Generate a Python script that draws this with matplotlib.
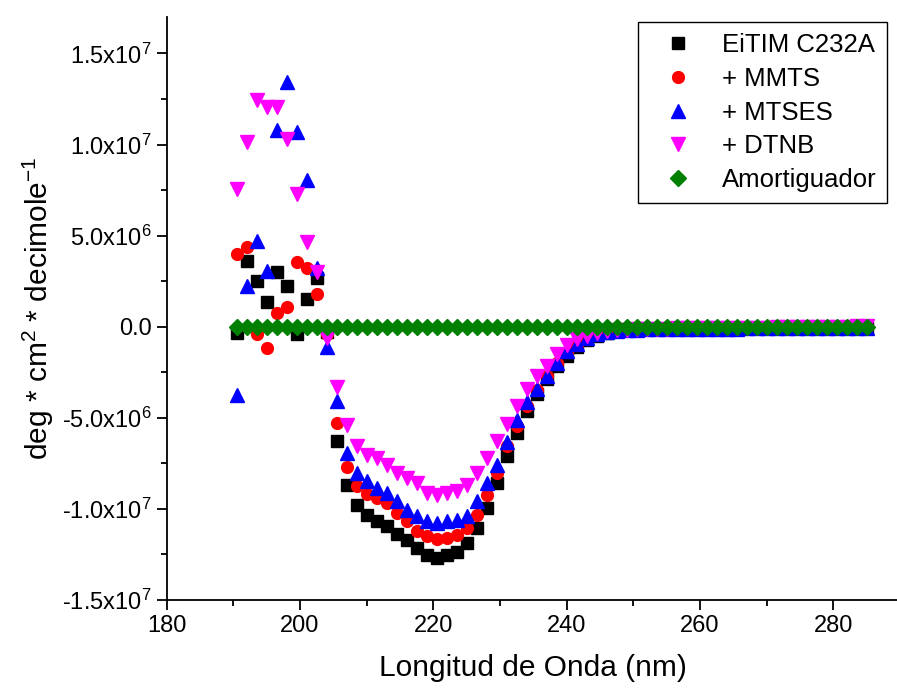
import numpy as np
import matplotlib.pyplot as plt

plt.rcParams['font.family'] = ['Liberation Sans', 'DejaVu Sans']
plt.rcParams['mathtext.fontset'] = 'custom'
plt.rcParams['mathtext.rm'] = 'Liberation Sans'

# wavelength grid (nm)
wavelength = np.arange(190.5, 285.1, 1.5)

# molar ellipticity, units of 1e6 deg cm2 dmol-1
eitim = [-0.32, 3.62, 2.52, 1.37, 2.98, 2.25, -0.41, 1.51, 2.70, -0.30,
         -6.28, -8.67, -9.81, -10.36, -10.69, -10.96, -11.38, -11.70, -12.15, -12.52,
         -12.70, -12.52, -12.34, -11.88, -11.05, -9.95, -8.58, -7.11, -5.82, -4.63,
         -3.71, -2.89, -2.16, -1.60, -1.10, -0.75, -0.50, -0.35, -0.25, -0.20,
         -0.17, -0.15, -0.14, -0.13, -0.12, -0.12, -0.11, -0.11, -0.10, -0.10,
         -0.10, -0.09, -0.09, -0.09, -0.08, -0.08, -0.08, -0.08, -0.07, -0.07,
         -0.07, -0.07, -0.06, -0.06]
mmts = [3.99, 4.36, -0.41, -1.15, 0.74, 1.06, 3.57, 3.20, 1.79, -0.40,
        -5.31, -7.72, -8.76, -9.16, -9.40, -9.68, -10.23, -10.69, -11.24, -11.51,
        -11.64, -11.60, -11.42, -11.05, -10.32, -9.22, -8.03, -6.56, -5.46, -4.36,
        -3.50, -2.70, -2.00, -1.40, -1.00, -0.65, -0.45, -0.30, -0.22, -0.18,
        -0.15, -0.14, -0.13, -0.12, -0.12, -0.11, -0.11, -0.10, -0.10, -0.10,
        -0.09, -0.09, -0.09, -0.08, -0.08, -0.08, -0.07, -0.07, -0.07, -0.07,
        -0.06, -0.06, -0.06, -0.05]
mtses = [-3.77, 2.25, 4.72, 3.07, 10.78, 13.44, 10.69, 8.03, 3.20, -1.10,
         -4.08, -6.92, -8.03, -8.49, -8.85, -9.13, -9.59, -10.04, -10.41, -10.69,
         -10.78, -10.69, -10.59, -10.41, -9.59, -8.58, -7.57, -6.33, -5.14, -4.12,
         -3.44, -2.71, -1.97, -1.35, -0.95, -0.60, -0.42, -0.30, -0.22, -0.18,
         -0.16, -0.15, -0.14, -0.13, -0.12, -0.12, -0.11, -0.11, -0.10, -0.10,
         -0.10, -0.09, -0.09, -0.09, -0.08, -0.08, -0.08, -0.08, -0.07, -0.07,
         -0.07, -0.07, -0.07, -0.08]
dtnb = [7.57, 10.14, 12.43, 12.06, 12.06, 10.32, 7.29, 4.63, 2.98, -0.60,
        -3.30, -5.37, -6.56, -7.02, -7.20, -7.57, -8.03, -8.30, -8.58, -9.13,
        -9.22, -9.13, -9.04, -8.67, -8.03, -7.20, -6.28, -5.32, -4.36, -3.44,
        -2.70, -2.16, -1.51, -1.00, -0.70, -0.50, -0.35, -0.25, -0.20, -0.16,
        -0.14, -0.12, -0.11, -0.10, -0.09, -0.08, -0.08, -0.07, -0.07, -0.06,
        -0.06, -0.05, -0.05, -0.05, -0.04, -0.04, -0.03, -0.03, -0.02, -0.02,
        -0.01, 0.00, 0.02, 0.04]
buffer = np.zeros(len(wavelength))

labels = ['EiTIM C232A', '+ MMTS', '+ MTSES', '+ DTNB', 'Amortiguador']

yticks = [-1.5e7, -1.0e7, -5.0e6, 0.0, 5.0e6, 1.0e7, 1.5e7]
ytick_labels = [r'-1.5x10$\mathregular{^7}$', r'-1.0x10$\mathregular{^7}$',
                r'-5.0x10$\mathregular{^6}$', '0.0', r'5.0x10$\mathregular{^6}$',
                r'1.0x10$\mathregular{^7}$', r'1.5x10$\mathregular{^7}$']
xticks = [180, 200, 220, 240, 260, 280]

fig = plt.figure(figsize=(8.97, 6.91), dpi=100)
ax = fig.add_axes([166.7 / 897, 91 / 691, 733.2 / 897, 583 / 691])

scale = 1e6
ax.plot(wavelength, np.array(eitim) * scale, 's', color='black', ms=8, label=labels[0])
ax.plot(wavelength, np.array(mmts) * scale, 'o', color='red', ms=8.5, label=labels[1])
ax.plot(wavelength, np.array(mtses) * scale, '^', color='blue', ms=9.5, label=labels[2])
ax.plot(wavelength, np.array(dtnb) * scale, 'v', color='magenta', ms=9.5, label=labels[3])
ax.plot(wavelength, buffer * scale, 'D', color='green', ms=8.5, label=labels[4])

ax.set_xlim(180, 290)
ax.set_ylim(-1.5e7, 1.7e7)
ax.set_xticks(xticks)
ax.set_xticks(np.arange(190, 290, 20), minor=True)
ax.set_yticks(yticks)
ax.set_yticklabels(ytick_labels)
ax.set_yticks(np.arange(-1.25e7, 1.7e7, 5e6), minor=True)

for side in ['top', 'right']:
    ax.spines[side].set_visible(False)
for side in ['left', 'bottom']:
    ax.spines[side].set_linewidth(1.3)
ax.tick_params(which='major', direction='out', length=7, width=1.3, labelsize=17, pad=4)
ax.tick_params(which='minor', direction='out', length=4.5, width=1.3)

ax.set_xlabel('Longitud de Onda (nm)', fontsize=21.5, labelpad=12)
ax.set_ylabel(r'deg * cm$\mathregular{^2}$ * decimole$\mathregular{^{-1}}$', fontsize=21.5, labelpad=4)

leg = ax.legend(loc='upper right', bbox_to_anchor=(0.983, 0.991), borderaxespad=0,
                fontsize=18.5, numpoints=1, fancybox=False, framealpha=1,
                edgecolor='black', labelspacing=0.38, handletextpad=0.55,
                borderpad=0.42, handlelength=2.3)
leg.get_frame().set_linewidth(1.0)

fig.savefig('out.png', dpi=100)
